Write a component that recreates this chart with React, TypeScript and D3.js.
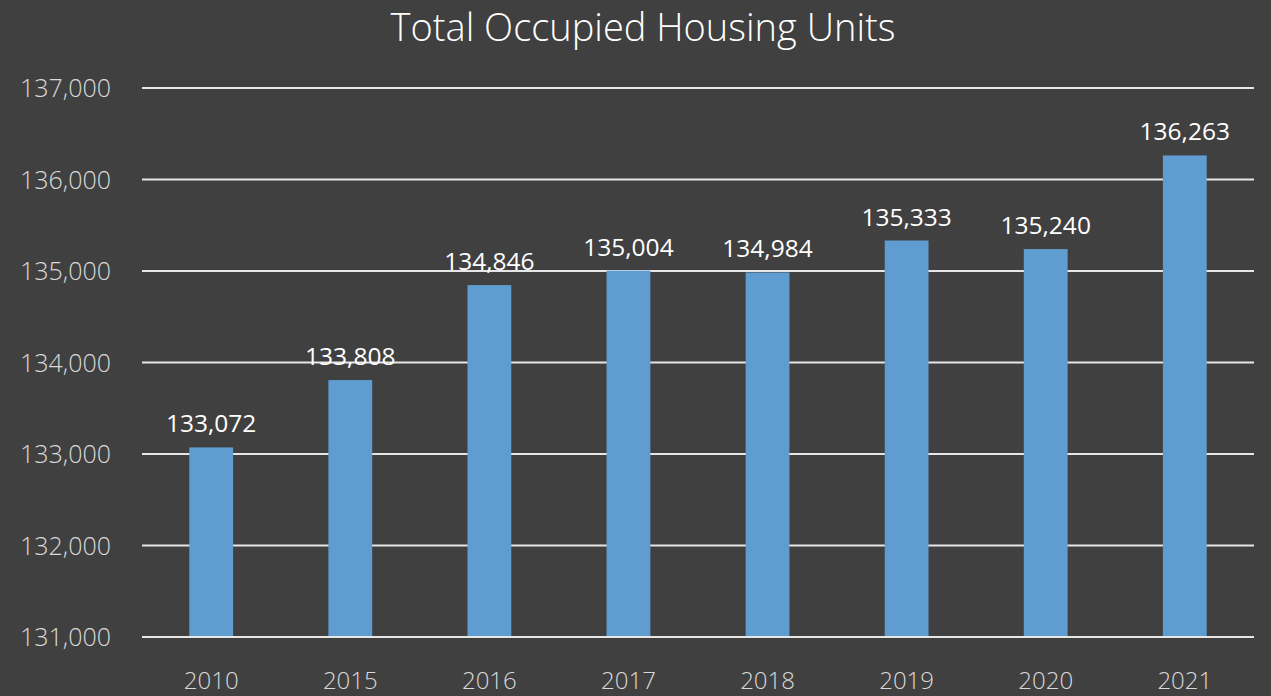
import React from "react";
import * as d3 from "d3";

const years = ["2010", "2015", "2016", "2017", "2018", "2019", "2020", "2021"];
const units = [133072, 133808, 134846, 135004, 134984, 135333, 135240, 136263];
const yTicks = [131000, 132000, 133000, 134000, 135000, 136000, 137000];

const W = 1271;
const H = 696;
const font = "'Open Sans', 'Noto Sans', sans-serif";

export default function App() {
  const x = d3.scaleBand().domain(years).range([142, 1254]).paddingInner(0.685).paddingOuter(0.34);
  const y = d3.scaleLinear().domain([131000, 137000]).range([637, 88]);
  const fmt = d3.format(",");

  return (
    <svg
      width={W}
      height={H}
      style={{ position: "absolute", left: 0, top: 0, background: "#404040" }}
      fontFamily={font}
    >
      <rect width={W} height={H} fill="#404040" />
      <text x={643} y={41} textAnchor="middle" fill="#ffffff" fontSize={38} fontWeight={300}>
        Total Occupied Housing Units
      </text>
      {yTicks.map((t) => (
        <g key={t}>
          <line x1={142} x2={1254} y1={y(t)} y2={y(t)} stroke="#e6e6e6" strokeWidth={2} />
          <text x={111} y={y(t)} dy="0.36em" textAnchor="end" fill="#d9d9d9" fontSize={25} fontWeight={300}>
            {fmt(t)}
          </text>
        </g>
      ))}
      {years.map((yr, i) => (
        <g key={yr}>
          <rect
            x={x(yr)!}
            y={y(units[i])}
            width={x.bandwidth()}
            height={y(131000) - y(units[i]) - 1}
            fill="#5f9dd1"
          />
          <text
            x={x(yr)! + x.bandwidth() / 2}
            y={y(units[i]) - 15}
            textAnchor="middle"
            fill="#ffffff"
            fontSize={24.5}
          >
            {fmt(units[i])}
          </text>
          <text
            x={x(yr)! + x.bandwidth() / 2}
            y={689}
            textAnchor="middle"
            fill="#d9d9d9"
            fontSize={24}
            fontWeight={300}
          >
            {yr}
          </text>
        </g>
      ))}
    </svg>
  );
}
